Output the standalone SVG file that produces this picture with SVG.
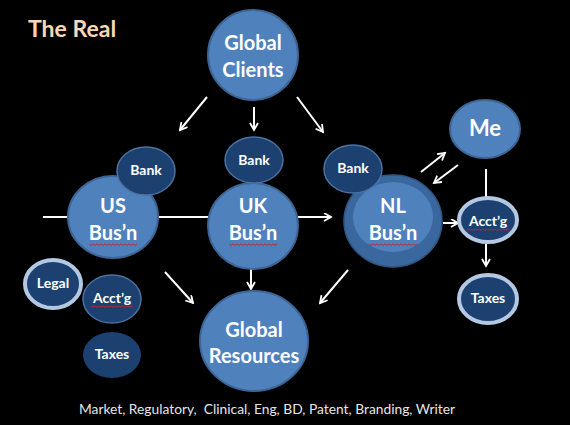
<svg xmlns="http://www.w3.org/2000/svg" width="570" height="425" viewBox="0 0 570 425">
<defs>
<style>
.big{fill:#4f81bd;stroke:#3d6696;stroke-width:2}
.dark{fill:#1c4170;stroke:#4a72a3;stroke-width:1.5}
.ring{fill:#1c4170;stroke:#b4c8e2;stroke-width:4}
.t{font-family:Lato,"Open Sans","Liberation Sans",sans-serif;font-weight:700;fill:#ffffff;text-anchor:middle}
.l{font-size:20px}
.s{font-size:14px}
.c{stroke:#ffffff;stroke-width:2;fill:none}
.sq{stroke:#d02020;stroke-width:0.9;fill:none}
</style>
<marker id="ah" markerWidth="10" markerHeight="10" refX="8" refY="4.5" orient="auto" markerUnits="userSpaceOnUse">
<path d="M1,0.5 L8,4.5 L1,8.5" stroke="#ffffff" stroke-width="1.8" fill="none"/>
</marker>
</defs>
<rect width="570" height="425" fill="#000000"/>
<text x="28" y="37" font-family="Lato,'Open Sans','Liberation Sans',sans-serif" font-weight="700" font-size="23" fill="#fad7b5">The Real</text>
<g id="connectors">
<line class="c" x1="207" y1="97" x2="180" y2="130" marker-end="url(#ah)"/>
<line class="c" x1="254" y1="107" x2="254" y2="130" marker-end="url(#ah)"/>
<line class="c" x1="297" y1="97" x2="323" y2="132" marker-end="url(#ah)"/>
<line class="c" x1="43" y1="217" x2="210" y2="217"/>
<line class="c" x1="298" y1="217" x2="331" y2="217" marker-end="url(#ah)"/>
<line class="c" x1="421" y1="172" x2="445" y2="153" marker-end="url(#ah)"/>
<line class="c" x1="458" y1="165" x2="434" y2="183" marker-end="url(#ah)"/>
<line class="c" x1="486" y1="169" x2="486" y2="197"/>
<line class="c" x1="443" y1="223" x2="458" y2="223" marker-end="url(#ah)"/>
<line class="c" x1="486" y1="244" x2="486" y2="266" marker-end="url(#ah)"/>
<line class="c" x1="165" y1="272" x2="193" y2="303" marker-end="url(#ah)"/>
<line class="c" x1="251" y1="267" x2="251" y2="289" marker-end="url(#ah)"/>
<line class="c" x1="348" y1="270" x2="320" y2="303" marker-end="url(#ah)"/>
</g>
<g id="global-clients">
<ellipse class="big" cx="253" cy="55" rx="45" ry="45"/>
<text class="t l" x="253" y="50">Global</text>
<text class="t l" x="253" y="77">Clients</text>
</g>
<g id="us-busn">
<ellipse class="big" cx="113" cy="217" rx="45" ry="41"/>
<text class="t l" x="113" y="213">US</text>
<text class="t l" x="113" y="240">Bus’n</text>
<path class="sq" d="M89,244 l2,1.5 l2,-1.5 l2,1.5 l2,-1.5 l2,1.5 l2,-1.5 l2,1.5 l2,-1.5 l2,1.5 l2,-1.5 l2,1.5 l2,-1.5 l2,1.5 l2,-1.5 l2,1.5 l2,-1.5 l2,1.5 l2,-1.5 l2,1.5 l2,-1.5 l2,1.5 l2,-1.5 l2,1.5 l2,-1.5"/>
</g>
<g id="us-bank">
<ellipse class="dark" cx="146" cy="171" rx="29" ry="24"/>
<text class="t s" x="146" y="175">Bank</text>
</g>
<g id="uk-busn">
<ellipse class="big" cx="253" cy="226" rx="45" ry="43"/>
<text class="t l" x="253" y="213">UK</text>
<text class="t l" x="253" y="240">Bus’n</text>
<path class="sq" d="M229,244 l2,1.5 l2,-1.5 l2,1.5 l2,-1.5 l2,1.5 l2,-1.5 l2,1.5 l2,-1.5 l2,1.5 l2,-1.5 l2,1.5 l2,-1.5 l2,1.5 l2,-1.5 l2,1.5 l2,-1.5 l2,1.5 l2,-1.5 l2,1.5 l2,-1.5 l2,1.5 l2,-1.5 l2,1.5 l2,-1.5"/>
</g>
<g id="uk-bank">
<ellipse class="dark" cx="254" cy="160" rx="29" ry="23"/>
<text class="t s" x="254" y="165">Bank</text>
</g>
<g id="nl-busn">
<ellipse cx="393" cy="221" rx="49" ry="46" fill="#3a689e" stroke="#2f5683" stroke-width="1.5"/>
<ellipse cx="393" cy="217" rx="40" ry="35" fill="#4f81bd"/>
<text class="t l" x="393" y="213">NL</text>
<text class="t l" x="393" y="240">Bus’n</text>
<path class="sq" d="M369,244 l2,1.5 l2,-1.5 l2,1.5 l2,-1.5 l2,1.5 l2,-1.5 l2,1.5 l2,-1.5 l2,1.5 l2,-1.5 l2,1.5 l2,-1.5 l2,1.5 l2,-1.5 l2,1.5 l2,-1.5 l2,1.5 l2,-1.5 l2,1.5 l2,-1.5 l2,1.5 l2,-1.5 l2,1.5 l2,-1.5"/>
</g>
<g id="nl-bank">
<ellipse class="dark" cx="353" cy="169" rx="29" ry="24"/>
<text class="t s" x="353" y="173">Bank</text>
</g>
<g id="me">
<ellipse class="big" cx="485" cy="129" rx="35" ry="29"/>
<text class="t" x="485" y="136" font-size="22">Me</text>
</g>
<g id="acctg-right">
<ellipse class="ring" cx="488" cy="220" rx="29" ry="22"/>
<text class="t s" x="488" y="226">Acct’g</text>
<path class="sq" d="M467,229 l2,1.3 l2,-1.3 l2,1.3 l2,-1.3 l2,1.3 l2,-1.3 l2,1.3 l2,-1.3 l2,1.3 l2,-1.3 l2,1.3 l2,-1.3 l2,1.3 l2,-1.3 l2,1.3 l2,-1.3 l2,1.3 l2,-1.3 l2,1.3 l2,-1.3 l2,1.3"/>
</g>
<g id="taxes-right">
<ellipse class="ring" cx="488" cy="299" rx="29" ry="24"/>
<text class="t s" x="488" y="303">Taxes</text>
</g>
<g id="legal">
<ellipse class="ring" cx="53" cy="284" rx="28" ry="24"/>
<text class="t s" x="53" y="288">Legal</text>
</g>
<g id="acctg-left">
<ellipse class="dark" cx="112" cy="299" rx="29" ry="24"/>
<text class="t s" x="112" y="303">Acct’g</text>
<path class="sq" d="M91,306 l2,1.3 l2,-1.3 l2,1.3 l2,-1.3 l2,1.3 l2,-1.3 l2,1.3 l2,-1.3 l2,1.3 l2,-1.3 l2,1.3 l2,-1.3 l2,1.3 l2,-1.3 l2,1.3 l2,-1.3 l2,1.3 l2,-1.3 l2,1.3 l2,-1.3 l2,1.3"/>
</g>
<g id="taxes-left">
<ellipse cx="112" cy="355" rx="29" ry="23" fill="#1c4170"/>
<text class="t s" x="112" y="359">Taxes</text>
</g>
<g id="global-resources">
<ellipse class="big" cx="254" cy="341" rx="54" ry="50"/>
<text class="t l" x="254" y="337">Global</text>
<text class="t l" x="254" y="363">Resources</text>
</g>
<text x="267" y="414" xml:space="preserve" font-family="Lato,'Open Sans','Liberation Sans',sans-serif" font-size="13.8" fill="#e6e6e6" text-anchor="middle">Market, Regulatory,  Clinical, Eng, BD, Patent, Branding, Writer</text>
</svg>
